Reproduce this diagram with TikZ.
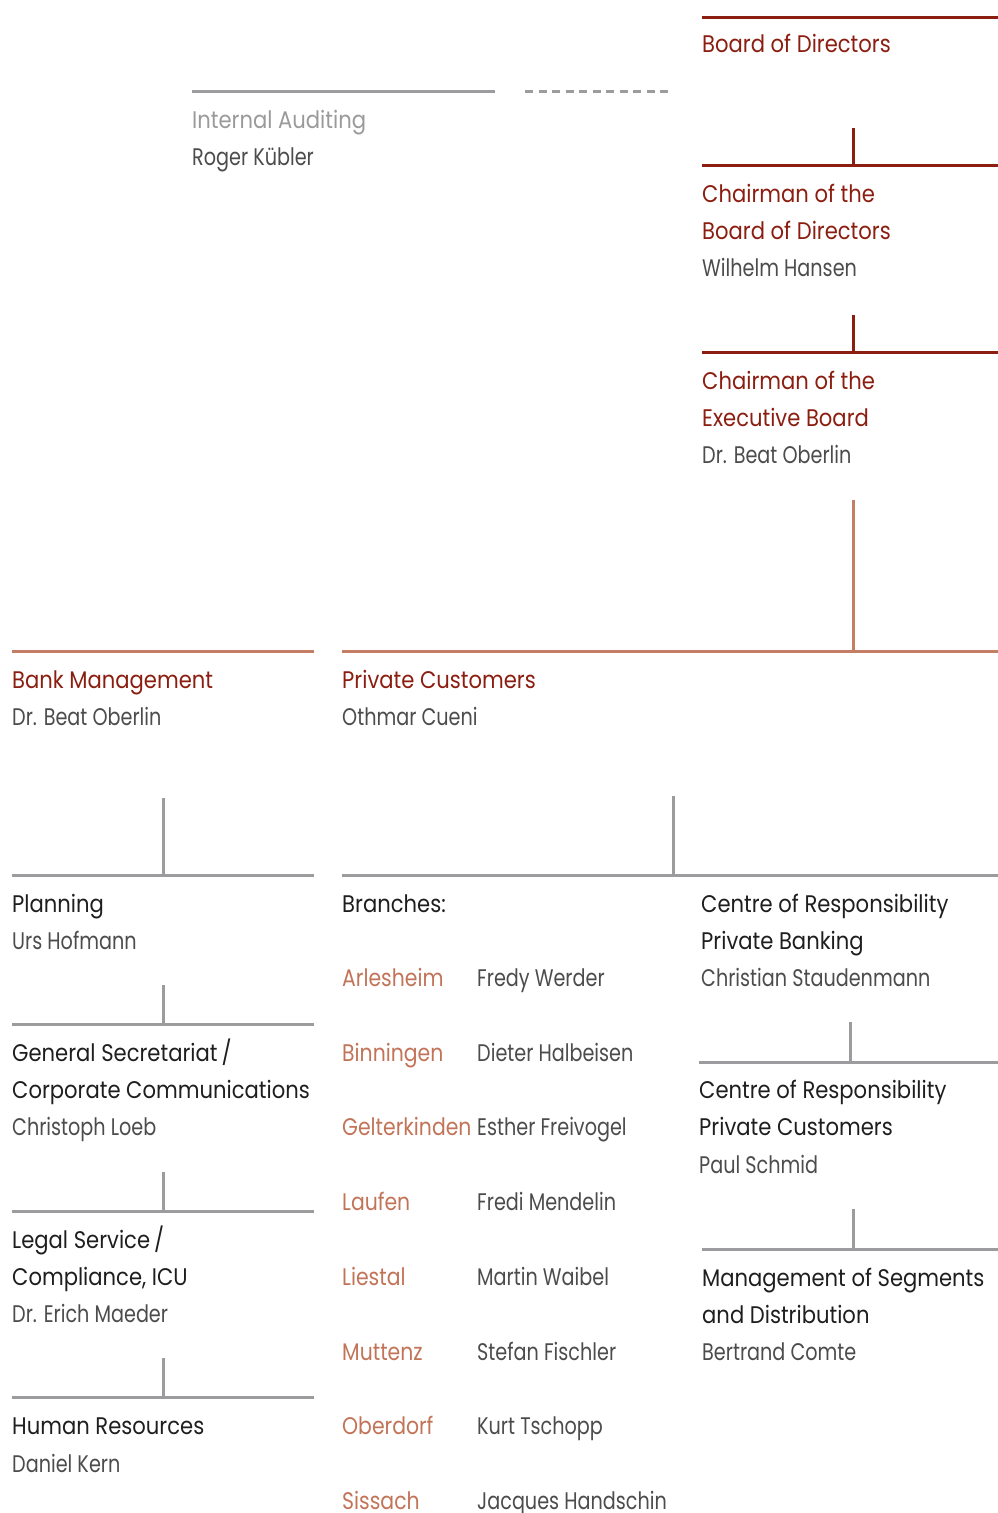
\documentclass[tikz,border=0pt]{standalone}
\usepackage{fontspec}
\setmainfont{Poppins}[FakeStretch=0.88]
\newfontfamily\namefont{Poppins}[FakeStretch=0.8]
\newfontfamily\placefont{Poppins}[FakeStretch=0.85]
\usepackage{tikz}
\definecolor{darkred}{HTML}{8B1E10}
\definecolor{lightred}{HTML}{C47E66}
\definecolor{branchred}{HTML}{C27458}
\definecolor{linegrey}{HTML}{9C9C9E}
\definecolor{auditgrey}{HTML}{9A9A9A}
\definecolor{titleblack}{HTML}{1E1E1E}
\definecolor{namegrey}{HTML}{4C4C4C}
\tikzset{
  txt/.style={anchor=base west, inner sep=0pt, font=\fontsize{24}{24}\selectfont},
  redtitle/.style={txt, text=darkred},
  unittitle/.style={txt, text=titleblack},
  person/.style={txt, text=namegrey, font=\namefont\fontsize{24}{24}\selectfont},
  branch/.style={txt, text=branchred, font=\placefont\fontsize{24}{24}\selectfont},
  audit/.style={txt, text=auditgrey},
  redline/.style={draw=darkred, line width=3pt},
  softline/.style={draw=lightred, line width=3pt},
  greyline/.style={draw=linegrey, line width=3pt},
  dashline/.style={greyline, dash pattern=on 8pt off 5.5pt}
}
% #1 name, #2 left x, #3 right x, #4 y, #5 style
\newcommand{\headline}[5]{\coordinate (#1-l) at (#2,#4); \coordinate (#1-r) at (#3,#4); \draw[#5] (#1-l) -- (#1-r);}
% #1 name, #2 x, #3 top y, #4 bottom y, #5 style
\newcommand{\stub}[5]{\coordinate (#1-t) at (#2,#3); \coordinate (#1-b) at (#2,#4); \draw[#5] (#1-t) -- (#1-b);}
% #1 name, #2 x, #3 y (middle of the line), #4 text, #5 style
\newcommand{\lbl}[5]{\node[#5] (#1) at (#2,#3+9) {#4};}

\begin{document}
\begin{tikzpicture}[x=1pt,y=-1pt]
  \useasboundingbox (0,0) rectangle (998,1513);

  % internal auditing
  \headline{aud}{192}{495}{91}{greyline}
  \headline{audd}{525}{672}{91}{dashline}
  \lbl{audt}{192}{119}{Internal Auditing}{audit}
  \lbl{audn}{192}{156}{Roger Kübler}{person}

  % board of directors
  \headline{bod}{702}{998}{17}{redline}
  \lbl{bodt}{702}{43}{Board of Directors}{redtitle}

  % chairman of the board
  \stub{cb}{853}{128}{165}{redline}
  \headline{cb}{702}{998}{165}{redline}
  \lbl{cbt1}{702}{193}{Chairman of the}{redtitle}
  \lbl{cbt2}{702}{230}{Board of Directors}{redtitle}
  \lbl{cbn}{702}{267}{Wilhelm Hansen}{person}

  % chairman of the executive board
  \stub{ce}{853}{315}{352}{redline}
  \headline{ce}{702}{998}{352}{redline}
  \lbl{cet1}{702}{380}{Chairman of the}{redtitle}
  \lbl{cet2}{702}{417}{Executive Board}{redtitle}
  \lbl{cen}{702}{454}{Dr. Beat Oberlin}{person}

  % bank management / private customers
  \stub{pc}{853}{500}{651}{softline}
  \headline{pc}{342}{998}{651}{softline}
  \headline{bm}{12}{314}{651}{softline}
  \lbl{bmt}{12}{679}{Bank Management}{redtitle}
  \lbl{bmn}{12}{716}{Dr. Beat Oberlin}{person}
  \lbl{pct}{342}{679}{Private Customers}{redtitle}
  \lbl{pcn}{342}{716}{Othmar Cueni}{person}

  % column 1
  \stub{pl}{163}{798}{875}{greyline}
  \headline{pl}{12}{314}{875}{greyline}
  \lbl{plt}{12}{903}{Planning}{unittitle}
  \lbl{pln}{12}{940}{Urs Hofmann}{person}

  \stub{gs}{163}{985}{1024}{greyline}
  \headline{gs}{12}{314}{1024}{greyline}
  \lbl{gst1}{12}{1052}{General Secretariat\,/}{unittitle}
  \lbl{gst2}{12}{1089}{Corporate Communications}{unittitle}
  \lbl{gsn}{12}{1126}{Christoph Loeb}{person}

  \stub{ls}{163}{1172}{1211}{greyline}
  \headline{ls}{12}{314}{1211}{greyline}
  \lbl{lst1}{12}{1239}{Legal Service\,/}{unittitle}
  \lbl{lst2}{12}{1276}{Compliance, ICU}{unittitle}
  \lbl{lsn}{12}{1313}{Dr. Erich Maeder}{person}

  \stub{hr}{163}{1358}{1397}{greyline}
  \headline{hr}{12}{314}{1397}{greyline}
  \lbl{hrt}{12}{1425}{Human Resources}{unittitle}
  \lbl{hrn}{12}{1463}{Daniel Kern}{person}

  % column 2
  \stub{br}{673}{796}{875}{greyline}
  \headline{br}{342}{998}{875}{greyline}
  \lbl{brt}{342}{903}{Branches:}{unittitle}

  \lbl{b1}{342}{977}{Arlesheim}{branch}
  \lbl{h1}{477}{977}{Fredy Werder}{person}
  \lbl{b2}{342}{1052}{Binningen}{branch}
  \lbl{h2}{477}{1052}{Dieter Halbeisen}{person}
  \lbl{b3}{342}{1126}{Gelterkinden}{branch}
  \lbl{h3}{477}{1126}{Esther Freivogel}{person}
  \lbl{b4}{342}{1201}{Laufen}{branch}
  \lbl{h4}{477}{1201}{Fredi Mendelin}{person}
  \lbl{b5}{342}{1276}{Liestal}{branch}
  \lbl{h5}{477}{1276}{Martin Waibel}{person}
  \lbl{b6}{342}{1351}{Muttenz}{branch}
  \lbl{h6}{477}{1351}{Stefan Fischler}{person}
  \lbl{b7}{342}{1425}{Oberdorf}{branch}
  \lbl{h7}{477}{1425}{Kurt Tschopp}{person}
  \lbl{b8}{342}{1500}{Sissach}{branch}
  \lbl{h8}{477}{1500}{Jacques Handschin}{person}

  % column 3
  \lbl{pbt1}{701}{903}{Centre of Responsibility}{unittitle}
  \lbl{pbt2}{701}{940}{Private Banking}{unittitle}
  \lbl{pbn}{701}{977}{Christian Staudenmann}{person}

  \stub{cr}{850}{1022}{1062}{greyline}
  \headline{cr}{699}{998}{1062}{greyline}
  \lbl{crt1}{699}{1089}{Centre of Responsibility}{unittitle}
  \lbl{crt2}{699}{1126}{Private Customers}{unittitle}
  \lbl{crn}{699}{1164}{Paul Schmid}{person}

  \stub{ms}{853}{1209}{1249}{greyline}
  \headline{ms}{702}{998}{1249}{greyline}
  \lbl{mst1}{702}{1277}{Management of Segments}{unittitle}
  \lbl{mst2}{702}{1314}{and Distribution}{unittitle}
  \lbl{msn}{702}{1351}{Bertrand Comte}{person}
\end{tikzpicture}
\end{document}
